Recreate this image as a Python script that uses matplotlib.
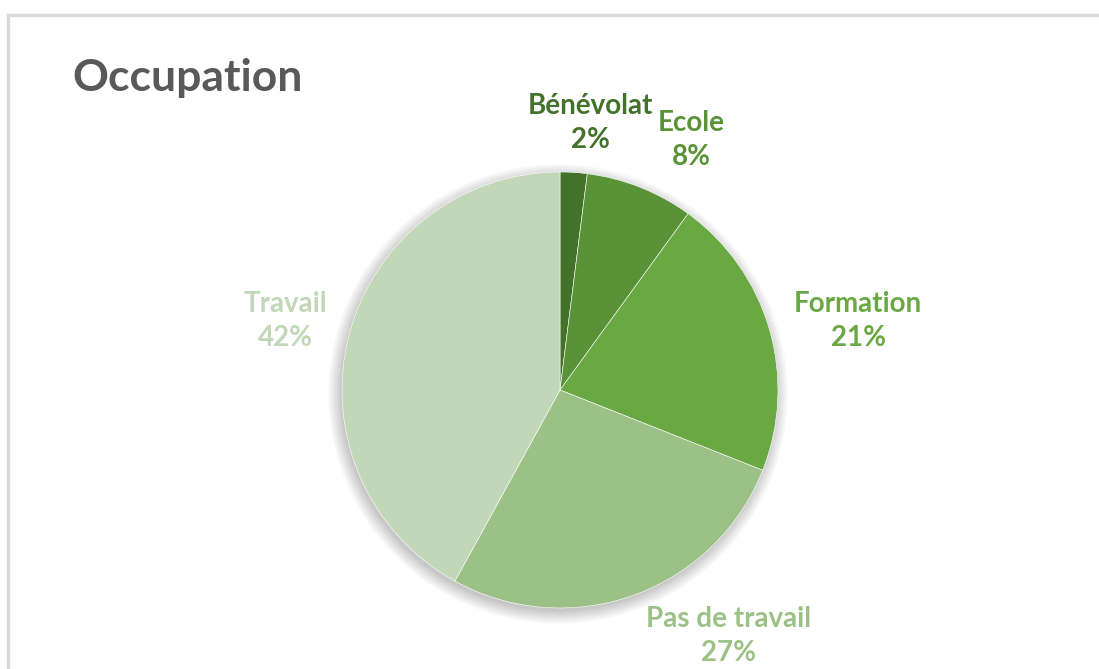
import numpy as np
import matplotlib.pyplot as plt
from matplotlib.patches import Circle, Rectangle

# data
categories = ["Bénévolat", "Ecole", "Formation", "Pas de travail", "Travail"]
values = [2, 8, 21, 27, 42]
colors = ["#43722b", "#5a9237", "#6aa843", "#9cc187", "#c1d7b8"]

# label positions (pixels from pie centre, y up)
label_offsets = [(30, 267), (131, 250), (298, 69), (169, -246), (-275, 69)]

W, H = 1099, 669
cx, cy, r = 560, H - 390, 218

fig = plt.figure(figsize=(W / 100, H / 100), dpi=100)
ax = fig.add_axes([0, 0, 1, 1])

# chart border (cropped at right/bottom)
ax.add_patch(Rectangle((7.5, -20), W + 20, H - 14.5 + 20, fill=False,
                       edgecolor="#d9d9d9", linewidth=2.5))

# soft shadow
for k in range(14):
    ax.add_patch(Circle((cx - 2, cy - 4), r + 12 - k, color="#000000",
                        alpha=0.014, linewidth=0, zorder=1))

ax.pie(values, colors=colors, startangle=90, counterclock=False,
       center=(cx, cy), radius=r, frame=True,
       wedgeprops=dict(linewidth=0.4, edgecolor="white"))
ax.set_xlim(0, W)
ax.set_ylim(0, H)
ax.set_aspect("equal")
ax.axis("off")

font = "Lato"
ax.text(72, H - 78, "Occupation", fontsize=32, fontweight="bold",
        color="#595959", family=font, va="center", ha="left")

for cat, v, col, (dx, dy) in zip(categories, values, colors, label_offsets):
    ax.text(cx + dx, cy + dy, f"{cat}\n{v}%", fontsize=20, fontweight="bold",
            color=col, family=font, ha="center", va="center",
            linespacing=1.4)

fig.savefig("out.png", dpi=100, facecolor="white")
